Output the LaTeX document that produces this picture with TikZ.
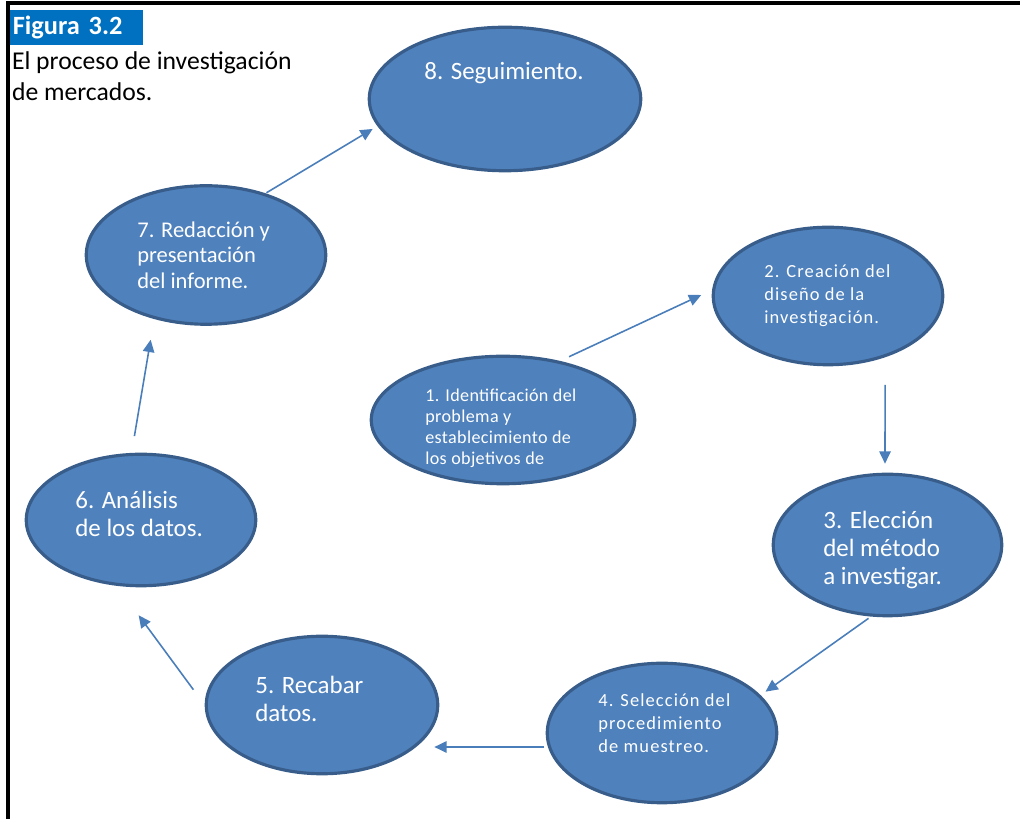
\documentclass[tikz,border=0pt]{standalone}
\usepackage{fontspec}
\setmainfont{Carlito}
\usetikzlibrary{arrows.meta,positioning,shapes.geometric}
\definecolor{bubblefill}{RGB}{79,129,189}
\definecolor{bubbleline}{RGB}{56,93,138}
\definecolor{arrowblue}{RGB}{74,126,187}
\definecolor{figblue}{RGB}{0,112,192}

\begin{document}
\begin{tikzpicture}[
        bubble/.style={ellipse, draw=bubbleline, line width=1.8pt, fill=bubblefill, inner sep=0pt},
        big/.style={text=white, align=left, anchor=west, inner sep=0pt, font=\fontsize{14.2}{16.2}\selectfont},
        mid/.style={text=white, align=left, anchor=west, inner sep=0pt, font=\fontsize{12.8}{14.5}\selectfont},
        small/.style={text=white, align=left, anchor=west, inner sep=0pt,
            font=\fontsize{10.5}{13}\selectfont\addfontfeature{LetterSpace=6}},
        arr/.style={draw=arrowblue, line width=0.9pt, -{Triangle[length=7pt,width=6.5pt]}}
    ]
        \useasboundingbox (0,0) rectangle (20.4,-16.38);
        % frame and heading
        \draw[line width=0.075cm] (0.16,-16.5) -- (0.16,-0.066) -- (20.5,-0.066);
        \node[fill=figblue, text=white, anchor=north west, minimum height=0.7cm, text width=2.56cm,
              inner xsep=0.05cm, align=left, font=\bfseries\fontsize{15}{16}\selectfont] (fig) at (0.2,-0.2) {Figura 3.2};
        \node[anchor=north west, inner sep=0pt, align=left, font=\fontsize{14.6}{17.8}\selectfont] (title) at (0.234,-1.02)
            {El proceso de investigación\\de mercados.};

        % the eight steps
        \node[bubble, minimum width=5.43cm, minimum height=2.87cm] (e8) at (10.10,-1.98) {};
        \node[bubble, minimum width=4.79cm, minimum height=2.77cm] (e7) at (4.12,-5.10) {};
        \node[bubble, minimum width=4.59cm, minimum height=2.75cm] (e2) at (16.56,-5.92) {};
        \node[bubble, minimum width=5.27cm, minimum height=2.55cm] (e1) at (10.06,-8.40) {};
        \node[bubble, minimum width=4.59cm, minimum height=2.63cm] (e6) at (2.82,-10.40) {};
        \node[bubble, minimum width=4.57cm, minimum height=2.83cm] (e3) at (17.75,-10.90) {};
        \node[bubble, minimum width=4.63cm, minimum height=2.75cm] (e5) at (6.44,-14.10) {};
        \node[bubble, minimum width=4.59cm, minimum height=2.79cm] (e4) at (13.24,-14.66) {};

        \node[big] (t8) at (8.48,-1.46) {8. Seguimiento.};
        \node[mid] (t7) at (2.74,-5.10) {7. Redacción y\\presentación\\del informe.};
        \node[small] (t2) at (15.28,-5.92) {2. Creación del\\diseño de la\\investigación.};
        \node[small, font=\fontsize{10.3}{11.9}\selectfont\addfontfeature{LetterSpace=2}] (t1) at (8.50,-8.57)
            {1. Identificación del\\problema y\\establecimiento de\\los objetivos de};
        \node[big] (t6) at (1.50,-10.28) {6. Análisis\\de los datos.};
        \node[big] (t3) at (16.46,-11.00) {3. Elección\\del método\\a investigar.};
        \node[big] (t5) at (5.10,-13.98) {5. Recabar\\datos.};
        \node[small] (t4) at (11.96,-14.46) {4. Selección del\\procedimiento\\de muestreo.};

        % cycle
        \draw[arr, shorten <=0.2cm, shorten >=0.24cm] (e1.46) -- (e2.177);
        \draw[arr, shorten <=0.55cm, shorten >=0.18cm] (e2.-47.6) -- (e3.92.8);
        \draw[arr, shorten <=0.06cm, shorten >=0.12cm] (e3.-103.8) -- (e4.21);
        \draw[arr, shorten <=0.07cm, shorten >=-0.1cm] (e4.187.5) -- (e4.187.5 -| e5.east);
        \draw[arr, shorten <=0.38cm, shorten >=0.73cm] (e5.west) -- (e6.-110.9);
        \draw[arr, shorten <=0.34cm, shorten >=0.42cm] (e6.98.3) -- (e7.-129.4);
        \draw[arr, shorten <=0.02cm, shorten >=0.11cm] (e7.46.5) -- (e8.-168.8);
    \end{tikzpicture}
\end{document}
